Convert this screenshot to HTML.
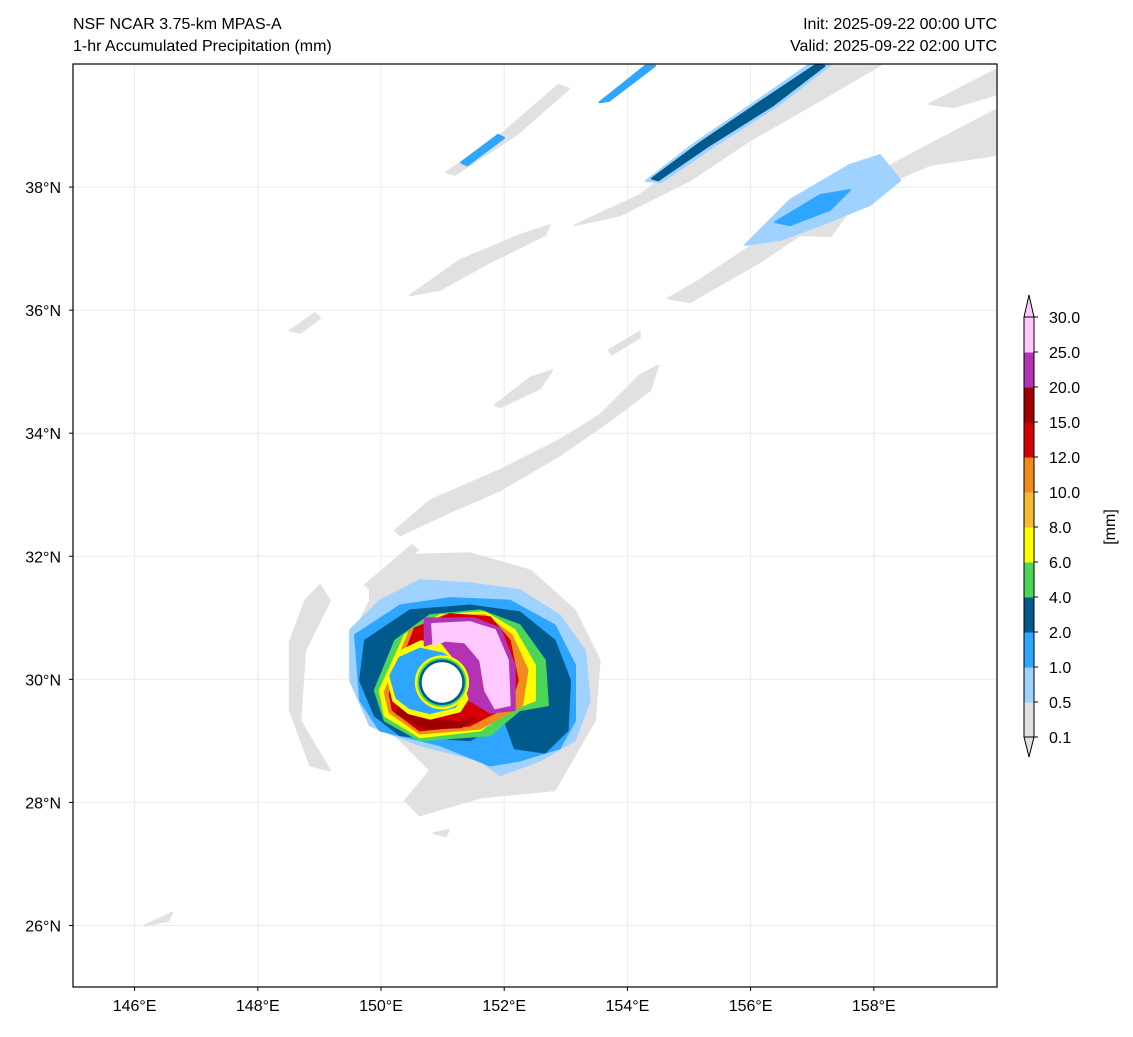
<!DOCTYPE html>
<html><head><meta charset="utf-8"><style>
body{margin:0;background:#fff;font-family:"Liberation Sans",sans-serif}
svg text{font-family:"Liberation Sans","DejaVu Sans",sans-serif;fill:#000}
</style></head><body>
<svg id="c" width="1133" height="1032" xmlns="http://www.w3.org/2000/svg">
<text x="73" y="29" font-size="16">NSF NCAR 3.75-km MPAS-A</text>
<text x="73" y="51" font-size="16">1-hr Accumulated Precipitation (mm)</text>
<text x="997" y="29" font-size="16" text-anchor="end">Init: 2025-09-22 00:00 UTC</text>
<text x="997" y="51" font-size="16" text-anchor="end">Valid: 2025-09-22 02:00 UTC</text>
<g id="grid"></g>
<g id="field"></g>
<rect x="73" y="64" width="924" height="923" fill="none" stroke="#000" stroke-width="1.2"/>
<g id="axes"></g>
<g id="cbar"></g>
<text transform="translate(1115,527) rotate(-90)" font-size="16" text-anchor="middle">[mm]</text>
</svg>
<script>
const NS="http://www.w3.org/2000/svg";
const lonTicks=[146,148,150,152,154,156,158];
const latTicks=[26,28,30,32,34,36,38];
const levelLabels=["0.1","0.5","1.0","2.0","4.0","6.0","8.0","10.0","12.0","15.0","20.0","25.0","30.0"];
const levelColors=["#e1e1e1","#a0d2ff","#2ea6ff","#005a8c","#4bd65a","#ffff00","#f8b933","#f08c1e","#d20000","#a00000","#b432b4","#ffc8ff"];
const LON0=145,LON1=160,LAT0=25,LAT1=40,X0=73,X1=997,Y0=64,Y1=987;
function xs(lon){return X0+(lon-LON0)/(LON1-LON0)*(X1-X0);}
function ys(lat){return Y1-(lat-LAT0)/(LAT1-LAT0)*(Y1-Y0);}
// precipitation shapes: [level index, [[lon,lat],...]]
const shapes=[
[0,[[154.66,36.19],[155.18,36.49],[156.15,37.14],[157.29,37.79],[158.43,38.44],[159.97,39.25],[159.97,38.52],[158.91,38.36],[157.78,37.87],[157.3,37.2],[156.8,37.22],[156.15,36.78],[155.5,36.41],[155.02,36.13]]],
[0,[[153.15,37.38],[154.2,37.87],[155.18,38.6],[156.48,39.41],[157.29,39.98],[158.1,39.98],[157.13,39.41],[155.99,38.76],[155.02,38.11],[153.88,37.54]]],
[0,[[158.9,39.35],[159.97,39.9],[159.97,39.5],[159.3,39.3]]],
[0,[[151.06,38.24],[152.0,38.9],[152.88,39.66],[153.05,39.6],[152.2,38.85],[151.2,38.2]]],
[0,[[150.23,32.42],[150.8,32.91],[151.93,33.4],[152.9,33.89],[153.55,34.29],[154.2,34.94],[154.5,35.1],[154.37,34.7],[153.72,34.21],[152.9,33.64],[151.93,33.07],[151.12,32.72],[150.31,32.34]]],
[0,[[151.85,34.46],[152.42,34.9],[152.78,35.02],[152.58,34.73],[151.93,34.42]]],
[0,[[150.47,36.24],[151.28,36.81],[152.25,37.22],[152.74,37.38],[152.66,37.22],[151.77,36.78],[150.96,36.33]]],
[0,[[148.52,35.67],[148.93,35.95],[149.01,35.87],[148.69,35.63]]],
[0,[[153.7,35.35],[154.2,35.65],[154.2,35.55],[153.75,35.28]]],
[0,[[146.17,26.0],[146.61,26.21],[146.55,26.08]]],
[0,[[150.85,27.5],[151.1,27.55],[151.05,27.45]]],
[0,[[149.82,31.61],[150.47,32.02],[151.44,32.05],[152.42,31.77],[153.15,31.12],[153.55,30.31],[153.47,29.33],[152.82,28.2],[151.61,28.08],[150.63,27.79],[150.39,28.03],[150.8,28.52],[150.31,29.01],[149.66,29.66],[149.5,30.63],[149.82,31.28]]],
[0,[[149.74,31.53],[150.5,32.18],[150.6,32.1],[149.85,31.45]]],
[0,[[149.01,31.53],[149.17,31.28],[148.77,30.47],[148.69,29.33],[149.17,28.52],[148.85,28.6],[148.52,29.5],[148.52,30.6],[148.77,31.28]]],
[1,[[155.91,37.06],[156.64,37.79],[157.61,38.36],[158.1,38.52],[158.43,38.11],[157.94,37.71],[157.13,37.38],[156.48,37.14]]],
[2,[[156.4,37.43],[157.13,37.87],[157.61,37.95],[157.29,37.63],[156.64,37.38]]],
[1,[[154.3,38.1],[155.1,38.72],[156.1,39.4],[156.95,39.99],[157.3,39.99],[156.45,39.33],[155.4,38.66],[154.55,38.08]]],
[3,[[154.4,38.14],[155.18,38.72],[156.15,39.38],[157.05,39.98],[157.2,39.97],[156.35,39.32],[155.3,38.66],[154.5,38.11]]],
[2,[[153.55,39.38],[154.29,39.97],[154.45,39.97],[153.7,39.4]]],
[2,[[151.3,38.4],[151.9,38.85],[152.0,38.8],[151.4,38.35]]],
[1,[[149.5,30.8],[149.98,31.28],[150.63,31.61],[151.44,31.56],[152.25,31.45],[152.9,31.04],[153.31,30.47],[153.39,29.66],[153.15,29.01],[152.58,28.68],[151.93,28.44],[151.61,28.68],[150.63,28.93],[149.82,29.25],[149.5,29.98]]],
[2,[[149.58,30.72],[150.31,31.2],[151.12,31.32],[152.09,31.28],[152.82,30.88],[153.15,30.23],[153.15,29.33],[152.9,28.88],[152.25,28.68],[151.77,28.6],[150.96,28.93],[149.98,29.17],[149.66,29.66]]],
[3,[[149.74,30.63],[150.47,31.12],[151.44,31.2],[152.25,31.09],[152.82,30.63],[153.07,29.98],[153.03,29.17],[152.66,28.81],[152.17,28.88],[152.01,29.33],[151.44,29.01],[150.31,29.09],[149.9,29.41],[149.66,29.98]]],
[4,[[150.23,30.63],[150.79,31.04],[151.61,31.12],[152.25,30.88],[152.66,30.31],[152.71,29.58],[152.25,29.5],[151.77,29.09],[150.63,29.01],[150.06,29.33],[149.9,29.82]]],
[5,[[150.39,30.72],[150.96,31.04],[151.69,31.09],[152.17,30.8],[152.5,30.23],[152.5,29.66],[152.01,29.46],[151.61,29.17],[150.63,29.06],[150.06,29.41],[149.98,29.82]]],
[7,[[150.47,30.8],[151.04,31.04],[151.69,31.04],[152.12,30.72],[152.38,30.15],[152.29,29.58],[151.61,29.2],[150.63,29.12],[150.14,29.46],[150.06,29.79]]],
[8,[[150.55,30.83],[151.12,31.06],[151.77,31.01],[152.09,30.63],[152.22,29.98],[152.09,29.58],[151.44,29.25],[150.63,29.17],[150.19,29.5],[150.14,29.77]]],
[9,[[150.3,29.6],[150.8,29.35],[151.3,29.3],[151.5,29.35],[151.3,29.22],[150.7,29.2],[150.25,29.45]]],
[5,[[150.3,30.45],[150.65,30.62],[151.05,30.55],[151.4,30.25],[151.5,29.82],[151.28,29.48],[150.8,29.36],[150.45,29.45],[150.2,29.65],[150.1,30.06]]],
[2,[[150.3,30.35],[150.63,30.5],[151.0,30.42],[151.33,30.2],[151.4,29.82],[151.2,29.55],[150.79,29.45],[150.47,29.53],[150.25,29.7],[150.15,30.06]]],
[10,[[150.71,30.99],[151.52,30.99],[151.93,30.83],[152.17,30.23],[152.17,29.5],[151.77,29.46],[151.44,29.66],[151.3,30.2],[150.96,30.63],[150.71,30.55]]],
[11,[[150.83,30.9],[151.44,30.93],[151.85,30.8],[152.06,30.31],[152.09,29.58],[151.85,29.53],[151.69,29.82],[151.61,30.31],[151.36,30.6],[151.04,30.63],[150.85,30.55]]]
];
const eye=[150.99,29.95];
const eyeRings=[[5,0.44],[4,0.4],[3,0.37]];
function mk(tag,attrs,parent){const e=document.createElementNS(NS,tag);for(const k in attrs)e.setAttribute(k,attrs[k]);parent.appendChild(e);return e;}
const grid=document.getElementById('grid'),field=document.getElementById('field'),axes=document.getElementById('axes'),cbar=document.getElementById('cbar');
lonTicks.forEach(v=>{
 const l=mk('line',{x1:xs(v),x2:xs(v),y1:Y0,y2:Y1,stroke:'#ebebeb','stroke-width':1},grid);
 
 
 const t=mk('line',{x1:xs(v),x2:xs(v),y1:Y1,y2:Y1+4,stroke:'#000'},axes);
 
 
 const tx=mk('text',{x:xs(v),y:Y1+24,'font-size':16,'text-anchor':'middle'},axes);tx.textContent=v+'°E';
 
 
});
latTicks.forEach(v=>{
 const l=mk('line',{x1:X0,x2:X1,y1:ys(v),y2:ys(v),stroke:'#ebebeb','stroke-width':1},grid);
 
 
 const t=mk('line',{x1:X0-4,x2:X0,y1:ys(v),y2:ys(v),stroke:'#000'},axes);
 
 
 const tx=mk('text',{x:X0-12,y:ys(v)+6,'font-size':16,'text-anchor':'end'},axes);tx.textContent=v+'°N';
 
 
});
shapes.forEach(s=>{
 const pts=s[1].map(p=>xs(p[0]).toFixed(1)+','+ys(p[1]).toFixed(1)).join(' ');
 const c=levelColors[s[0]];
 const p=mk('polygon',{points:pts,fill:c,stroke:c,'stroke-width':2,'stroke-linejoin':'round'},field);
 
 
});
eyeRings.forEach(r=>{
 const e=mk('ellipse',{cx:xs(eye[0]),cy:ys(eye[1]),rx:r[1]*61.6,ry:r[1]*61.5,fill:levelColors[r[0]]},field);
 
 
});
const eyeC=mk('ellipse',{cx:xs(eye[0]),cy:ys(eye[1]),rx:0.33*61.6,ry:0.33*61.5,fill:'#fff'},field);


// colorbar
const CBX=1024,CBW=10,CBT=317,CBB=737,n=levelColors.length,h=(CBB-CBT)/n;
levelColors.forEach((c,i)=>{
 const r=mk('rect',{x:CBX,y:CBB-(i+1)*h,width:CBW,height:h+0.5,fill:c},cbar);
 
 
});
const tb=mk('polygon',{points:`${CBX},${CBT} ${CBX+CBW/2},${CBT-22} ${CBX+CBW},${CBT}`,fill:levelColors[n-1],stroke:'#000','stroke-width':1},cbar);


const bb=mk('polygon',{points:`${CBX},${CBB} ${CBX+CBW/2},${CBB+20} ${CBX+CBW},${CBB}`,fill:levelColors[0],stroke:'#000','stroke-width':1},cbar);


const fr=mk('rect',{x:CBX,y:CBT,width:CBW,height:CBB-CBT,fill:'none',stroke:'#000','stroke-width':1},cbar);


levelLabels.forEach((s,i)=>{
 const y=CBB-i*h;
 const t=mk('line',{x1:CBX+CBW,x2:CBX+CBW+4,y1:y,y2:y,stroke:'#000'},cbar);
 
 
 const tx=mk('text',{x:CBX+CBW+15,y:y+6,'font-size':16},cbar);tx.textContent=s;
 
 
});
</script>
</body></html>
